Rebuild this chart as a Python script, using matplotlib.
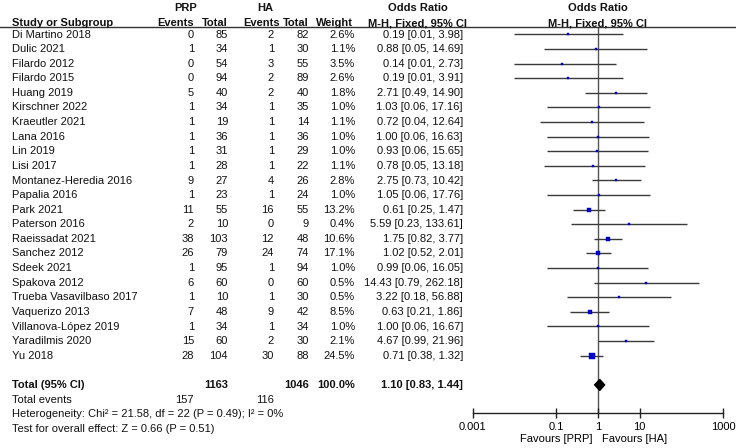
import numpy as np
import matplotlib
matplotlib.use('Agg')
import matplotlib.pyplot as plt
import matplotlib.transforms as mtransforms
from matplotlib.lines import Line2D

plt.rcParams['font.family'] = ['Liberation Sans', 'DejaVu Sans']
plt.rcParams['font.size'] = 8

studies = ["Di Martino 2018", "Dulic 2021", "Filardo 2012", "Filardo 2015", "Huang 2019",
           "Kirschner 2022", "Kraeutler 2021", "Lana 2016", "Lin 2019", "Lisi 2017",
           "Montanez-Heredia 2016", "Papalia 2016", "Park 2021", "Paterson 2016",
           "Raeissadat 2021", "Sanchez 2012", "Sdeek 2021", "Spakova 2012",
           "Trueba Vasavilbaso 2017", "Vaquerizo 2013", "Villanova-López 2019",
           "Yaradilmis 2020", "Yu 2018"]
prp_events = [0, 1, 0, 0, 5, 1, 1, 1, 1, 1, 9, 1, 11, 2, 38, 26, 1, 6, 1, 7, 1, 15, 28]
prp_total = [85, 34, 54, 94, 40, 34, 19, 36, 31, 28, 27, 23, 55, 10, 103, 79, 95, 60, 10, 48, 34, 60, 104]
ha_events = [2, 1, 3, 2, 2, 1, 1, 1, 1, 1, 4, 1, 16, 0, 12, 24, 1, 0, 1, 9, 1, 2, 30]
ha_total = [82, 30, 55, 89, 40, 35, 14, 36, 29, 22, 26, 24, 55, 9, 48, 74, 94, 60, 30, 42, 34, 30, 88]
weights = [2.6, 1.1, 3.5, 2.6, 1.8, 1.0, 1.1, 1.0, 1.0, 1.1, 2.8, 1.0, 13.2, 0.4, 10.6, 17.1,
           1.0, 0.5, 0.5, 8.5, 1.0, 2.1, 24.5]
odds = [0.19, 0.88, 0.14, 0.19, 2.71, 1.03, 0.72, 1.00, 0.93, 0.78, 2.75, 1.05, 0.61, 5.59,
        1.75, 1.02, 0.99, 14.43, 3.22, 0.63, 1.00, 4.67, 0.71]
ci_low = [0.01, 0.05, 0.01, 0.01, 0.49, 0.06, 0.04, 0.06, 0.06, 0.05, 0.73, 0.06, 0.25, 0.23,
          0.82, 0.52, 0.06, 0.79, 0.18, 0.21, 0.06, 0.99, 0.38]
ci_high = [3.98, 14.69, 2.73, 3.91, 14.90, 17.16, 12.64, 16.63, 15.65, 13.18, 10.42, 17.76, 1.47,
           133.61, 3.77, 2.01, 16.05, 262.18, 56.88, 1.86, 16.67, 21.96, 1.32]

total_n = [1163, 1046]
total_events = [157, 116]
total_or = [1.10, 0.83, 1.44]
heterogeneity = "Heterogeneity: Chi² = 21.58, df = 22 (P = 0.49); I² = 0%"
overall = "Test for overall effect: Z = 0.66 (P = 0.51)"
xticks = [0.001, 0.1, 1, 10, 1000]
xtick_labels = ["0.001", "0.1", "1", "10", "1000"]

W, H = 736, 448
fig = plt.figure(figsize=(W / 100, H / 100), dpi=100)

# forest panel: pixel box 472..723 wide, 27..413 tall
ax = fig.add_axes([472.7 / W, 1 - 413 / H, 250.6 / W, 386 / H])
ax.set_xscale('log')
ax.set_xlim(0.001, 1000)
row0, step = 34.5, 14.6
ax.set_ylim((413 - row0) / step, (27 - row0) / step)

rows = np.arange(len(studies))
total_row = len(studies) + 1

ax.axvline(1, color='#555555', lw=1, zorder=1)
ax.hlines(rows, ci_low, ci_high, color='#3a3a3a', lw=1, zorder=2)
sides = 1.6 + np.sqrt(weights) * 0.72
for i in rows:
    ax.plot(odds[i], i, marker='s', ms=sides[i] * 0.72, color='#0000cc',
            mec='#0000cc', mew=0.3, ls='none', zorder=3)

est, lo, hi = total_or
dh = 0.38
ax.fill([lo, est, hi, est], [total_row, total_row - dh, total_row, total_row + dh],
        color='black', zorder=4)

for s in ['top', 'right', 'left']:
    ax.spines[s].set_visible(False)
ax.spines['bottom'].set_linewidth(1)
ax.spines['bottom'].set_color('#222222')
ax.set_yticks([])
ax.set_xticks(xticks)
ax.set_xticklabels(xtick_labels)
ax.minorticks_off()
ax.tick_params(axis='x', direction='inout', length=7, width=1, color='#222222', pad=3,
               labelsize=8)

ax.annotate("Favours [PRP]", xy=(1, 0), xycoords=('data', 'axes fraction'),
            xytext=(-4, -18.5), textcoords='offset points', ha='right', va='center', fontsize=8)
ax.annotate("Favours [HA]", xy=(1, 0), xycoords=('data', 'axes fraction'),
            xytext=(3, -18.5), textcoords='offset points', ha='left', va='center', fontsize=8)

# table text: x in figure pixels, y in row units
tr = mtransforms.blended_transform_factory(fig.transFigure, ax.transData)


def put(px, y, s, ha='right', **kw):
    fig.text(px / W, y, s, transform=tr, ha=ha, va='center', color='#111111', **kw)


col_ev1, col_tot1, col_ev2, col_tot2, col_w, col_or = 194, 228, 274, 309, 355, 463
for i, name in enumerate(studies):
    put(12, i, name, ha='left')
    put(col_ev1, i, str(prp_events[i]))
    put(col_tot1, i, str(prp_total[i]))
    put(col_ev2, i, str(ha_events[i]))
    put(col_tot2, i, str(ha_total[i]))
    put(col_w, i, f"{weights[i]:.1f}%")
    put(col_or, i, f"{odds[i]:.2f} [{ci_low[i]:.2f}, {ci_high[i]:.2f}]")

put(12, total_row, "Total (95% CI)", ha='left', fontweight='bold')
put(col_tot1, total_row, str(total_n[0]), fontweight='bold')
put(col_tot2, total_row, str(total_n[1]), fontweight='bold')
put(col_w, total_row, f"{sum(weights):.1f}%", fontweight='bold')
put(col_or, total_row, f"{est:.2f} [{lo:.2f}, {hi:.2f}]", fontweight='bold')
put(12, total_row + 1, "Total events", ha='left')
put(col_ev1, total_row + 1, str(total_events[0]))
put(col_ev2, total_row + 1, str(total_events[1]))
put(12, total_row + 2, heterogeneity, ha='left')
put(12, total_row + 3, overall, ha='left')

# headers
hy1, hy2 = -1.8, -0.78
put(186, hy1, "PRP", ha='center', fontweight='bold')
put(265, hy1, "HA", ha='center', fontweight='bold')
put(12, hy2, "Study or Subgroup", ha='left', fontweight='bold')
put(col_ev1, hy2, "Events", fontweight='bold')
put(col_tot1, hy2, "Total", fontweight='bold')
put(280, hy2, "Events", fontweight='bold')
put(col_tot2, hy2, "Total", fontweight='bold')
put(353, hy2, "Weight", fontweight='bold')
put(418, hy1, "Odds Ratio", ha='center', fontweight='bold')
put(418, hy2, "M-H, Fixed, 95% CI", ha='center', fontweight='bold')
put(598, hy1, "Odds Ratio", ha='center', fontweight='bold')
put(598, hy2, "M-H, Fixed, 95% CI", ha='center', fontweight='bold')

fig.add_artist(Line2D([0, 1], [-0.5, -0.5], transform=tr, color='#333333', lw=1))

fig.savefig('out.png', dpi=100)
